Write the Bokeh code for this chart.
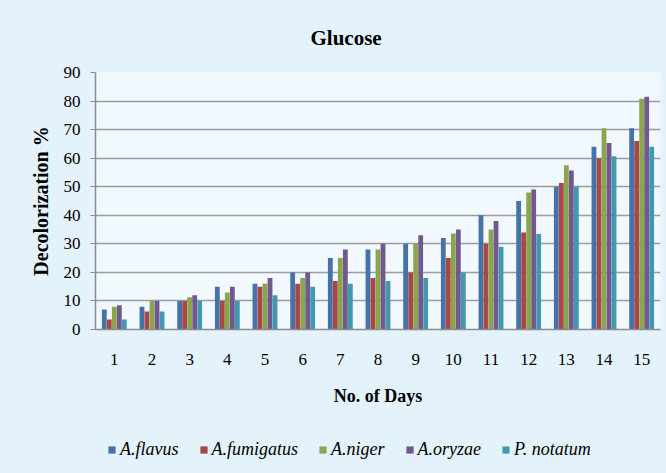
from bokeh.plotting import figure
from bokeh.layouts import column
from bokeh.models import (ColumnDataSource, FactorRange, Range1d, FixedTicker, Legend,
                          LegendItem, Title)
from bokeh.transform import dodge
from bokeh.embed import file_html
from bokeh.resources import INLINE

days = [str(d) for d in range(1, 16)]
flavus = [7, 8, 10, 15, 16, 20, 25, 28, 30, 32, 40, 45, 50, 64, 70.5]
fumigatus = [3.5, 6.3, 10, 10, 15, 16, 17, 18, 20, 25, 30, 34, 51.3, 60, 66]
niger = [8, 10, 11.3, 13, 16, 18, 25, 28, 30, 33.6, 35, 48, 57.5, 70.5, 80.8]
oryzae = [8.5, 10, 12, 15, 18, 20, 28, 30, 33, 35, 38, 49, 55.7, 65.3, 81.5]
notatum = [3.5, 6.3, 10, 10, 12, 15, 16, 17, 18, 20, 29, 33.4, 50, 60.7, 64]
y_ticks = [0, 10, 20, 30, 40, 50, 60, 70, 80, 90]

series_names = ["A.flavus", "A.fumigatus", "A.niger", "A.oryzae", "P. notatum"]
series_keys = ["flavus", "fumigatus", "niger", "oryzae", "notatum"]
colors = ["#4572A7", "#AA4643", "#89A54E", "#71588F", "#4198AF"]

source = ColumnDataSource(dict(day=days, flavus=flavus, fumigatus=fumigatus,
                               niger=niger, oryzae=oryzae, notatum=notatum))

FONT = "Liberation Serif"
BG = "#e4f2fb"

p = figure(width=666, height=428, x_range=FactorRange(*days, range_padding=0),
           y_range=Range1d(0, 90), output_backend="svg", toolbar_location=None,
           min_border_left=95, min_border_right=6, min_border_top=72, min_border_bottom=99,
           title=None)

p.border_fill_color = BG
p.background_fill_color = "#f2f9fe"
p.outline_line_color = None

title = Title(text="Glucose", align="left", text_font=FONT, text_font_size="21px",
              text_font_style="bold", text_color="#000000", offset=215, standoff=46)
p.add_layout(title, "above")

bw = 0.133
offsets = [-2 * bw, -bw, 0, bw, 2 * bw]
for key, off, col in zip(series_keys, offsets, colors):
    p.vbar(x=dodge("day", off, range=p.x_range), top=key, width=bw * 0.96, source=source,
           fill_color=col, line_color=None)

p.ygrid.grid_line_color = "#9c9c9c"
p.ygrid.grid_line_width = 1.6
p.xgrid.grid_line_color = None
p.yaxis.ticker = FixedTicker(ticks=y_ticks)

for ax in (p.xaxis, p.yaxis):
    ax.axis_line_color = "#8c8c8c"
    ax.axis_line_width = 1.5
    ax.major_label_text_font = FONT
    ax.major_label_text_font_size = "17px"
    ax.major_label_text_color = "#000000"
    ax.axis_label_text_font = FONT
    ax.axis_label_text_font_style = "bold"
    ax.axis_label_text_color = "#000000"
    ax.minor_tick_line_color = None

p.yaxis.axis_label = "Decolorization %"
p.yaxis.axis_label_text_font_size = "20px"
p.yaxis.major_tick_out = 5
p.yaxis.major_tick_in = 0
p.yaxis.major_tick_line_color = "#8c8c8c"
p.yaxis.major_label_standoff = 10
p.yaxis.axis_label_standoff = 9

p.xaxis.axis_label = "No. of Days"
p.xaxis.axis_label_text_font_size = "18px"
p.xaxis.major_tick_line_color = None
p.xaxis.major_label_standoff = 18
p.xaxis.axis_label_standoff = 18

# legend strip below the chart (its frame is aligned with the chart's frame by the column)
lg = figure(width=666, height=45, x_range=FactorRange(*days), y_range=Range1d(0, 1),
            output_backend="svg", toolbar_location=None, x_axis_type=None, y_axis_type=None,
            min_border=0, min_border_left=0, min_border_right=0, min_border_top=0,
            min_border_bottom=0)
lg.border_fill_color = BG
lg.background_fill_color = BG
lg.outline_line_color = None
lg.grid.grid_line_color = None
items = []
for name, key, col in zip(series_names, series_keys, colors):
    r = lg.vbar(x="day", top=key, width=0.1, source=source, fill_color=col, line_color=None,
                visible=False)
    items.append(LegendItem(label=name, renderers=[r]))
legend = Legend(items=items, orientation="horizontal", location=(12, 13),
                label_text_font=FONT, label_text_font_size="18px", label_text_font_style="italic",
                label_text_color="#000000", glyph_width=9, glyph_height=9, label_standoff=4,
                spacing=20, padding=0, margin=0, background_fill_alpha=0, border_line_color=None,
                inactive_fill_alpha=0, click_policy="none")
lg.add_layout(legend, "center")

layout = column(p, lg, spacing=0, styles={"background-color": BG})
open("out.html", "w").write(file_html(layout, INLINE))
